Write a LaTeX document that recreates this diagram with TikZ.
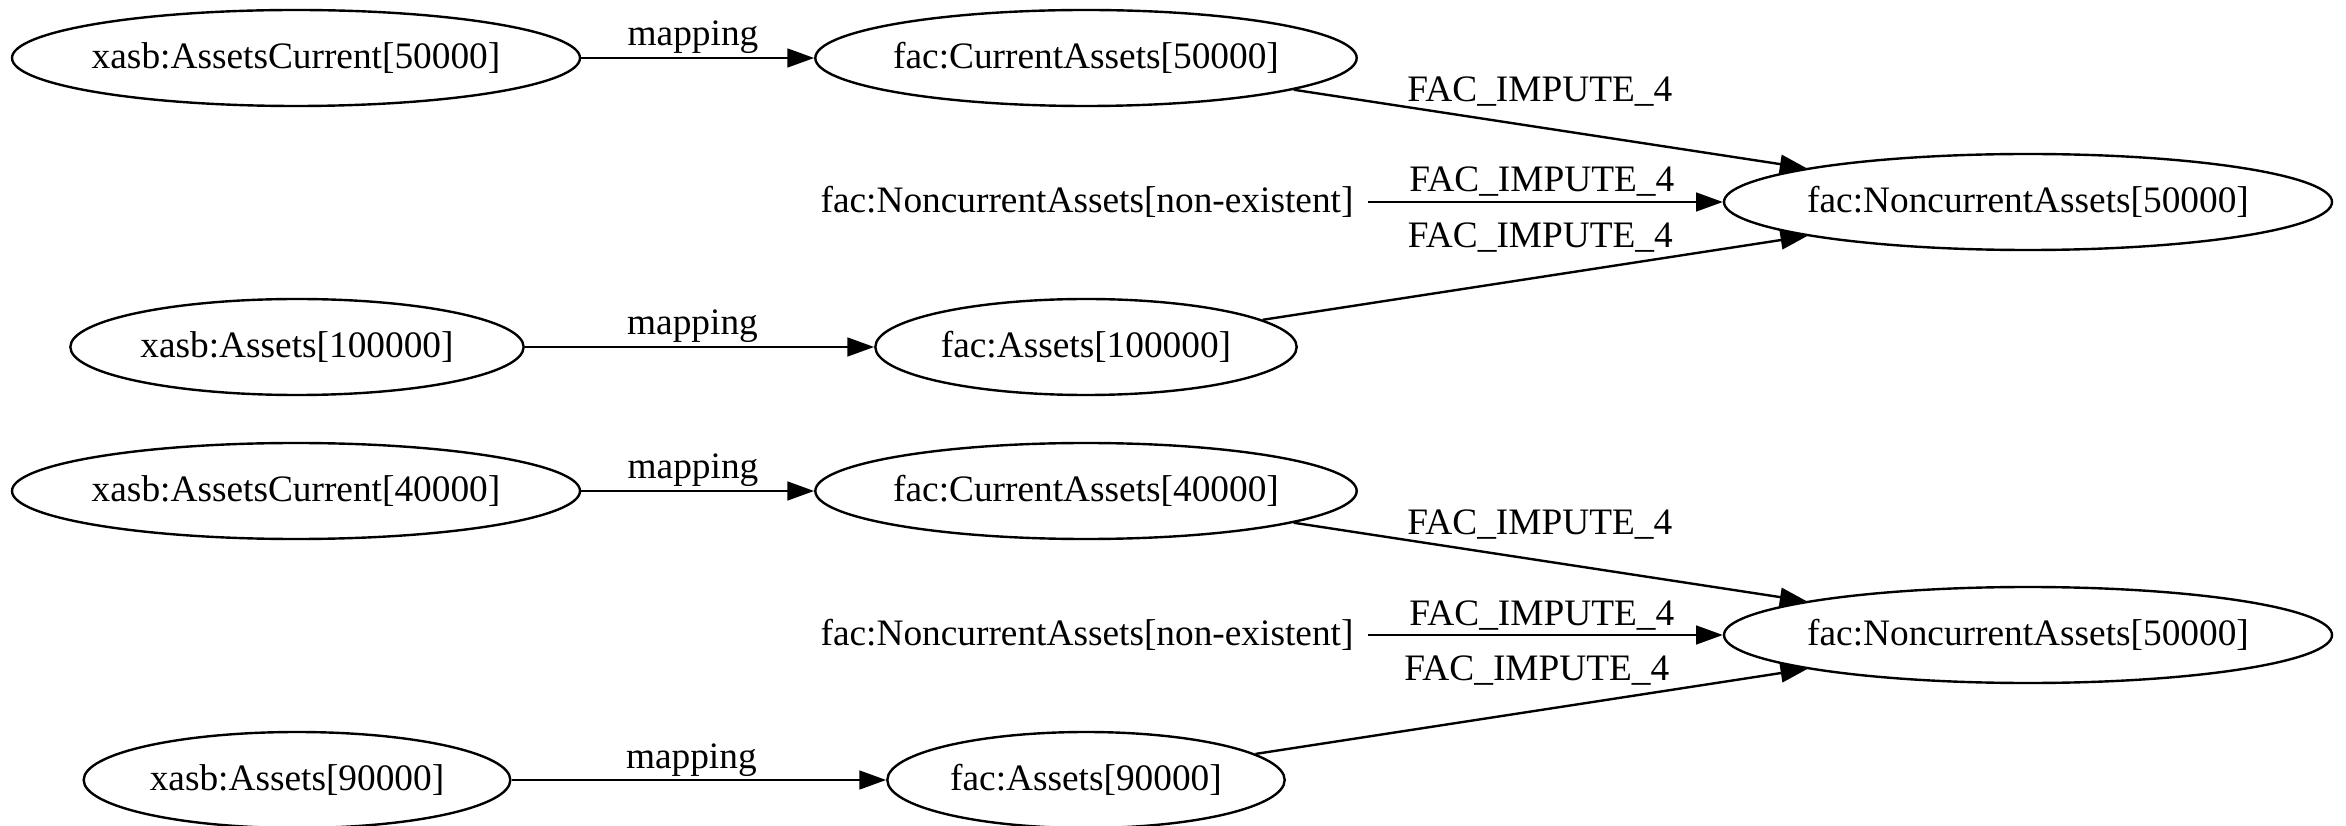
\documentclass[tikz,border=0pt]{standalone}
\usepackage{fontspec}
\setmainfont{Liberation Serif}
\usetikzlibrary{arrows.meta,shapes.geometric}

\begin{document}
\begin{tikzpicture}[x=0.375pt, y=-0.375pt, line width=0.9pt,
    font=\fontsize{14pt}{16pt}\selectfont,
    >={Triangle[length=10pt,width=7pt]},
    fact/.style={ellipse, draw, inner xsep=-4pt, inner ysep=0pt, minimum height=36pt},
    plain/.style={inner xsep=5pt, inner ysep=2pt},
    lbl/.style={anchor=base, inner sep=0pt}]
  % page frame
  \useasboundingbox (0,0) rectangle (2346,826);
  % two groups of facts, one under the other
  \foreach \g/\dy/\cur/\tot/\wx/\wf in {a/0/50000/100000/170/158, b/433/40000/90000/160/149}{
    % nodes
    \node[fact, minimum width=213pt] (xac\g) at (296,58+\dy) {xasb:AssetsCurrent[\cur]};
    \node[fact, minimum width=203pt] (fca\g) at (1086,58+\dy) {fac:CurrentAssets[\cur]};
    \node[plain] (fnx\g) at (1087,202+\dy) {fac:NoncurrentAssets[non-existent]};
    \node[fact, minimum width=228pt] (fnc\g) at (2028,202+\dy) {fac:NoncurrentAssets[50000]};
    \node[fact, minimum width=\wx pt] (xas\g) at (297,347+\dy) {xasb:Assets[\tot]};
    \node[fact, minimum width=\wf pt] (fas\g) at (1086,347+\dy) {fac:Assets[\tot]};
    % mapping edges
    \draw[->] (xac\g) -- node[lbl, pos=0.48, yshift=4.5pt] {mapping} (fca\g);
    \draw[->] (xas\g) -- node[lbl, pos=0.48, yshift=4.5pt] {mapping} (fas\g);
    % imputation edges
    \draw[->] (fca\g) -- node[lbl, pos=0.48, yshift=9.75pt] {FAC\_IMPUTE\_4} (fnc\g);
    \draw[->] (fnx\g) -- node[lbl, pos=0.49, yshift=3.75pt] {FAC\_IMPUTE\_4} (fnc\g);
    \draw[->] (fas\g) -- node[lbl, pos=0.51, yshift=11.25pt] {FAC\_IMPUTE\_4} (fnc\g);
  }
\end{tikzpicture}
\end{document}
